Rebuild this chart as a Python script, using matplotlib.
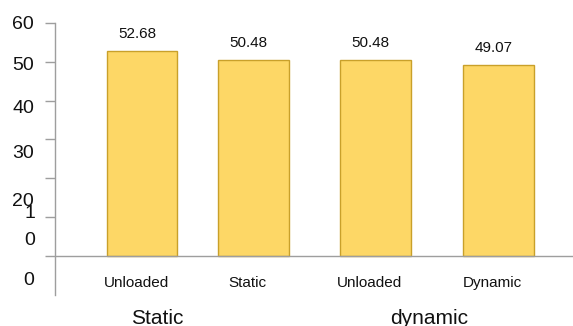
import matplotlib
matplotlib.use("Agg")
import matplotlib.pyplot as plt
import matplotlib.transforms as mtransforms

plt.rcParams['font.family'] = ['Liberation Sans', 'DejaVu Sans']

# ---- data ----
categories = ["Unloaded", "Static", "Unloaded", "Dynamic"]
values = [52.68, 50.48, 50.48, 49.07]
value_labels = ["52.68", "50.48", "50.48", "49.07"]
groups = ["Static", "dynamic"]
yticks = [0, 10, 20, 30, 40, 50, 60]

# ---- layout ----
x_pos = [0, 0.939, 1.964, 3.0]
bar_width = 0.593
group_x = [0.126, 2.418]
# the original renders its y tick labels drifting downward
ylabel_pos = {0: -6.2, 10: None, 20: 14.0, 30: 26.3, 40: 38.1, 50: 49.0, 60: 59.5}

W, H = 573, 326
fig = plt.figure(figsize=(W / 100, H / 100), dpi=100)
ax = fig.add_axes([55 / W, 1 - 295 / H, 1 - 55 / W, (295 - 23) / H])

ax.bar(x_pos, values, width=bar_width, color="#FDD766", edgecolor="#C9A02A", linewidth=1.0, zorder=2)

ax.set_xlim(-0.732, 3.627)
ax.set_ylim(-10.05, 60)
ax.axhline(0, color="#9E9E9E", linewidth=1.0, zorder=3)

for s in ["top", "right", "bottom"]:
    ax.spines[s].set_visible(False)
ax.spines["left"].set_color("#9E9E9E")
ax.spines["left"].set_linewidth(1.0)

ax.set_yticks(yticks)
ax.set_yticklabels([])
ax.tick_params(axis="y", length=7, width=1.0, color="#9E9E9E")
ax.set_xticks([])

# y tick labels
tr = mtransforms.blended_transform_factory(fig.transFigure, ax.transData)
for t in yticks:
    if t == 10:
        ax.text(29.5 / W, 10.9, "1", transform=tr, ha="center", va="center", fontsize=14, color="#111111", clip_on=False)
        ax.text(29.5 / W, 4.1, "0", transform=tr, ha="center", va="center", fontsize=14, color="#111111", clip_on=False)
    else:
        ax.text(34 / W, ylabel_pos[t], str(t), transform=tr, ha="right", va="center", fontsize=14, color="#111111", clip_on=False)

# value labels
for x, v, lab in zip(x_pos, values, value_labels):
    ax.text(x - 0.04, v + 4.4, lab, ha="center", va="center", fontsize=11, color="#111111")

# category labels
for x, c in zip(x_pos, categories):
    ax.text(x - 0.05, -6.96, c, ha="center", va="center", fontsize=11, color="#111111", clip_on=False)

# group labels
trg = mtransforms.blended_transform_factory(ax.transData, fig.transFigure)
for gx, g in zip(group_x, groups):
    ax.text(gx, 1.5 / H, g, transform=trg, ha="center", va="baseline", fontsize=15, color="#111111", clip_on=False)

fig.savefig("out.png", dpi=100)
